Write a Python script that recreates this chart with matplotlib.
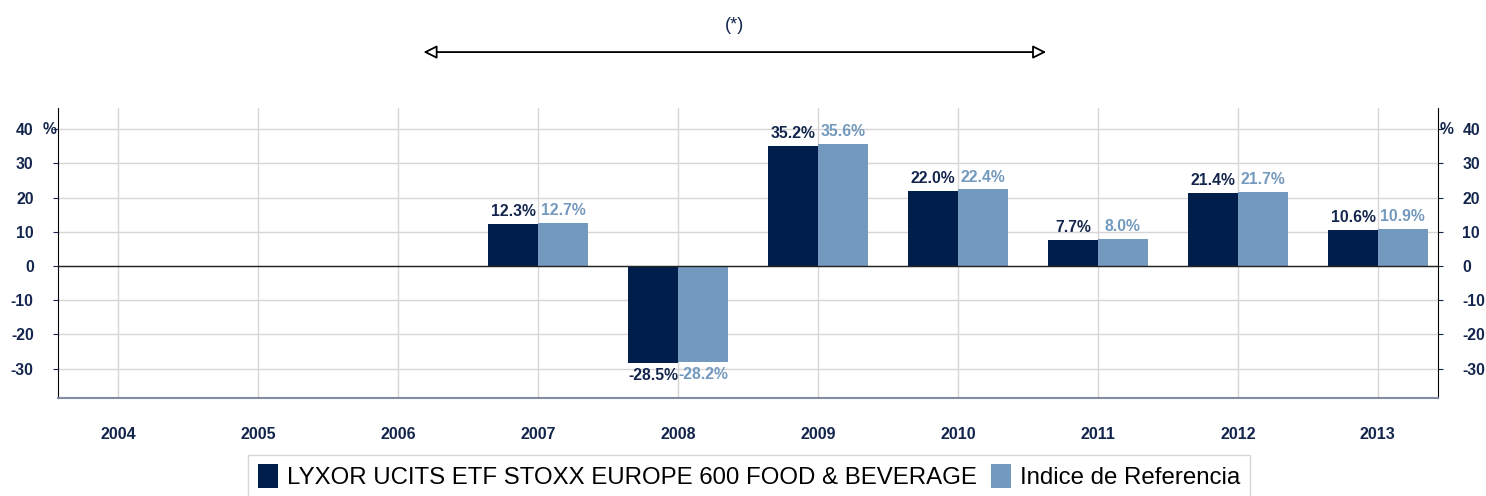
import numpy as np
import matplotlib.pyplot as plt

plt.rcParams['font.family'] = ['Liberation Sans', 'DejaVu Sans']
plt.rcParams['axes.unicode_minus'] = False

# data
years = ['2004', '2005', '2006', '2007', '2008', '2009', '2010', '2011', '2012', '2013']
fund = [None, None, None, 12.3, -28.5, 35.2, 22.0, 7.7, 21.4, 10.6]
index = [None, None, None, 12.7, -28.2, 35.6, 22.4, 8.0, 21.7, 10.9]
yticks = [-30, -20, -10, 0, 10, 20, 30, 40]
fund_name = 'LYXOR UCITS ETF STOXX EUROPE 600 FOOD & BEVERAGE'
index_name = 'Indice de Referencia'

dark = '#001e4b'
light = '#7399be'
text_col = '#13254d'

fig = plt.figure(figsize=(14.86, 4.96), dpi=100)
ax = fig.add_axes([0.039, 0.1976, 0.9287, 0.5846])

x = np.arange(len(years))
w = 0.355
fv = np.array([np.nan if v is None else v for v in fund])
iv = np.array([np.nan if v is None else v for v in index])
b1 = ax.bar(x - w / 2, fv, w, color=dark, zorder=3, label=fund_name)
b2 = ax.bar(x + w / 2, iv, w, color=light, zorder=3, label=index_name)

# value labels above / below bars
for xi, v in zip(x, fv):
    if np.isnan(v):
        continue
    off = 1.4 if v > 0 else -1.4
    ax.text(xi - w / 2, v + off, '%.1f%%' % v, ha='center',
            va='bottom' if v > 0 else 'top', fontsize=11.3, fontweight='bold', color=text_col)
for xi, v in zip(x, iv):
    if np.isnan(v):
        continue
    off = 1.4 if v > 0 else -1.4
    ax.text(xi + w / 2, v + off, '%.1f%%' % v, ha='center',
            va='bottom' if v > 0 else 'top', fontsize=11.3, fontweight='bold', color=light)

ax.set_xlim(-0.43, 9.43)
ax.set_ylim(-38.6, 46.2)
ax.set_yticks(yticks)
ax.set_xticks(x)
ax.set_xticklabels(years, fontsize=11.5, fontweight='bold', color=text_col)
ax.tick_params(axis='x', length=0, pad=21)
ax.tick_params(axis='y', length=3.5, pad=14, labelsize=11.3, colors=text_col,
               left=True, right=True, labelleft=True, labelright=True)
for lab in ax.get_yticklabels():
    lab.set_fontweight('bold')
ax.grid(True, color='#d6d6d6', linewidth=1, zorder=0)
ax.axhline(0, color='#222222', linewidth=1, zorder=4)

ax.spines['top'].set_visible(False)
ax.spines['left'].set_color('black')
ax.spines['right'].set_color('black')
ax.spines['bottom'].set_color('#7f8ca3')
ax.spines['bottom'].set_linewidth(1.5)

ax.text(-0.001, 40, '%', transform=ax.get_yaxis_transform(), ha='right', va='center',
        fontsize=11.3, fontweight='bold', color=text_col)
ax.text(1.001, 40, '%', transform=ax.get_yaxis_transform(), ha='left', va='center',
        fontsize=11.3, fontweight='bold', color=text_col)

# period arrow
fig.text(0.4946, 0.948, '(*)', ha='center', va='center', fontsize=13, color=text_col)
ax.annotate('', xy=(0.704, 0.895), xytext=(0.285, 0.895),
            xycoords='figure fraction', textcoords='figure fraction',
            arrowprops=dict(arrowstyle='<|-|>', fc='white', ec='black', lw=1.3,
                            mutation_scale=20, shrinkA=0, shrinkB=0))

fig.legend(handles=[b1, b2], loc='upper center', bbox_to_anchor=(0.504, 0.083),
           ncol=2, fontsize=17.3, frameon=True, edgecolor='#cccccc', fancybox=False,
           handlelength=0.85, handleheight=1.1, handletextpad=0.35, columnspacing=0.6,
           borderpad=0.4, borderaxespad=0)

plt.savefig('out.png', dpi=100)
